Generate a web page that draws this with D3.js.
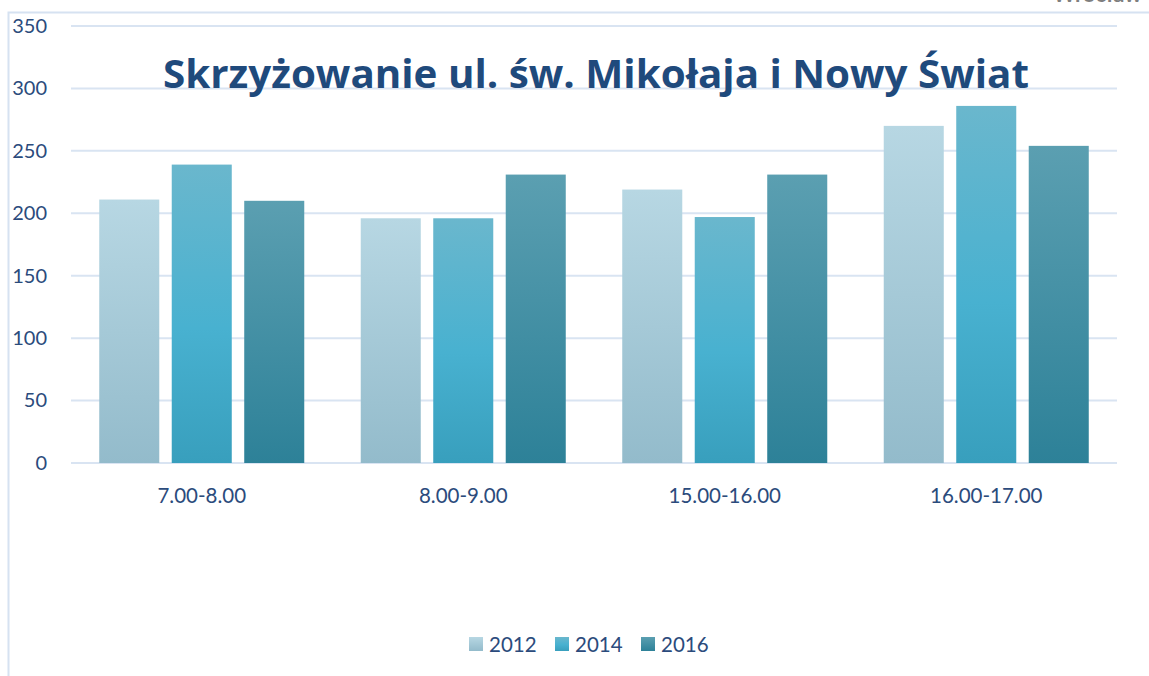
<!DOCTYPE html>
<html>
<head>
<meta charset="utf-8">
<script src="https://cdn.jsdelivr.net/npm/d3@7"></script>
<style>
  body { margin: 0; background: #fff; }
  svg { display: block; font-family: Lato, "Open Sans", sans-serif; }
</style>
</head>
<body>
<svg id="chart" width="1149" height="676"></svg>
<script>
// Data
const categories = ["7.00-8.00", "8.00-9.00", "15.00-16.00", "16.00-17.00"];
const years = ["2012", "2014", "2016"];
const values2012 = [211, 196, 219, 270];
const values2014 = [239, 196, 197, 286];
const values2016 = [210, 231, 231, 254];
const yTicks = [0, 50, 100, 150, 200, 250, 300, 350];

const series = [values2012, values2014, values2016];

const svg = d3.select("#chart");
const margin = { left: 71, right: 32, top: 26, bottom: 213 };
const W = 1149, H = 676;

// gradients per series
const gradStops = [
  [["0%", "#b7d7e3"], ["100%", "#93bbcb"]],
  [["0%", "#6ab7cd"], ["55%", "#48b1d0"], ["100%", "#389fbd"]],
  [["0%", "#5b9fb1"], ["100%", "#2d8198"]]
];
const defs = svg.append("defs");
gradStops.forEach((stops, i) => {
  const g = defs.append("linearGradient")
    .attr("id", "grad" + i)
    .attr("x1", 0).attr("y1", 0).attr("x2", 0).attr("y2", 1);
  stops.forEach(s => g.append("stop").attr("offset", s[0]).attr("stop-color", s[1]));
});

// frame
svg.append("path")
  .attr("d", `M8.5,${H} L8.5,12.5 L${W},12.5`)
  .attr("fill", "none")
  .attr("stroke", "#d6e2f1")
  .attr("stroke-width", 2);

// text cut off at the top, as in the source
svg.append("text")
  .attr("x", 1142).attr("y", 2)
  .attr("text-anchor", "end")
  .attr("font-size", 22)
  .attr("font-weight", "bold")
  .attr("fill", "#7f7f7f")
  .text("Wrocław");

const x0 = d3.scaleBand()
  .domain(categories)
  .range([margin.left, W - margin.right])
  .paddingInner(0.216)
  .paddingOuter(0.108);

const x1 = d3.scaleBand()
  .domain(years)
  .range([0, x0.bandwidth()])
  .paddingInner(0.172)
  .paddingOuter(0);

const y = d3.scaleLinear()
  .domain([0, 350])
  .range([H - margin.bottom, margin.top]);

// gridlines
svg.append("g")
  .selectAll("line")
  .data(yTicks)
  .join("line")
  .attr("x1", margin.left).attr("x2", W - margin.right)
  .attr("y1", d => y(d)).attr("y2", d => y(d))
  .attr("stroke", "#d9e4f2")
  .attr("stroke-width", 2);

// y axis labels
const yAxis = d3.axisLeft(y).tickValues(yTicks).tickSize(0).tickPadding(0);
const gy = svg.append("g")
  .attr("transform", `translate(47,0)`)
  .call(yAxis);
gy.select(".domain").remove();
gy.selectAll("text")
  .attr("font-size", 20)
  .attr("font-family", "Lato, 'Open Sans', sans-serif")
  .attr("fill", "#2b4b7c");

// bars
const groups = svg.append("g")
  .selectAll("g")
  .data(categories)
  .join("g")
  .attr("transform", d => `translate(${x0(d)},0)`);

groups.selectAll("rect")
  .data((d, ci) => years.map((yr, si) => ({ yr, si, v: series[si][ci] })))
  .join("rect")
  .attr("x", d => x1(d.yr))
  .attr("width", x1.bandwidth())
  .attr("y", d => y(d.v))
  .attr("height", d => y(0) - y(d.v))
  .attr("fill", d => `url(#grad${d.si})`);

// x axis labels
const xAxis = d3.axisBottom(x0).tickSize(0).tickPadding(0);
const gx = svg.append("g")
  .attr("transform", `translate(0,${y(0) + 25})`)
  .call(xAxis);
gx.select(".domain").remove();
gx.selectAll("text")
  .attr("font-size", 20.5)
  .attr("font-family", "Lato, 'Open Sans', sans-serif")
  .attr("fill", "#2b4b7c");

// title
svg.append("text")
  .attr("x", 596).attr("y", 88)
  .attr("text-anchor", "middle")
  .attr("font-size", 40)
  .attr("font-weight", "bold")
  .attr("font-family", "'Open Sans', Lato, sans-serif")
  .attr("fill", "#1f4a7c")
  .attr("textLength", 866)
  .attr("lengthAdjust", "spacingAndGlyphs")
  .text("Skrzyżowanie ul. św. Mikołaja i Nowy Świat");

// legend
const legend = svg.append("g")
  .selectAll("g")
  .data(years)
  .join("g")
  .attr("transform", (d, i) => `translate(${469 + i * 86},637)`);
legend.append("rect")
  .attr("width", 14).attr("height", 14)
  .attr("fill", (d, i) => `url(#grad${i})`);
legend.append("text")
  .attr("x", 20).attr("y", 14.5)
  .attr("font-size", 20.5)
  .attr("fill", "#2b4b7c")
  .text(d => d);
</script>
</body>
</html>
